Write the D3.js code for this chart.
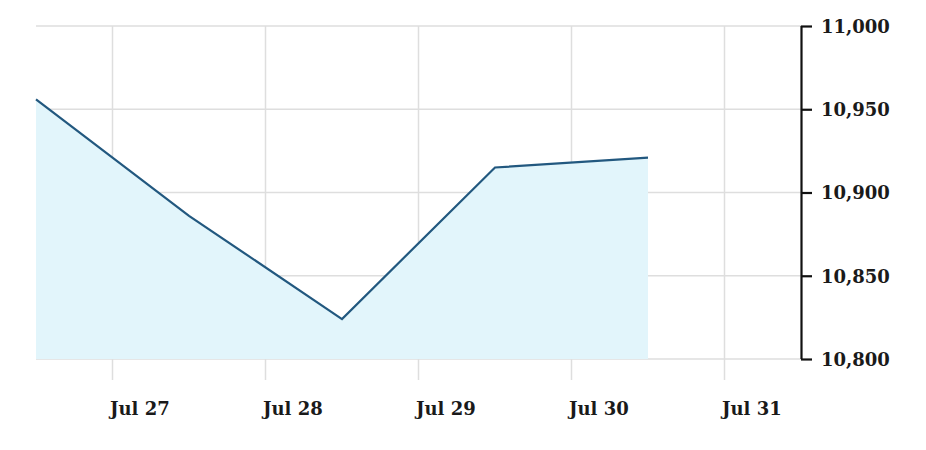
<!DOCTYPE html>
<html>
<head>
<meta charset="utf-8">
<script src="https://cdn.jsdelivr.net/npm/d3@7"></script>
<style>
  html, body { margin: 0; padding: 0; background: #fff; }
  svg { display: block; }
</style>
</head>
<body>
<svg id="chart" width="926" height="450"></svg>
<script>
// Data
const dates = ["2023-07-26T12:00", "2023-07-27T12:00", "2023-07-28T12:00", "2023-07-29T12:00", "2023-07-30T12:00"];
const values = [10956, 10886, 10824, 10915, 10921];
const xTickDates = ["2023-07-27", "2023-07-28", "2023-07-29", "2023-07-30", "2023-07-31"];
const yTicks = [10800, 10850, 10900, 10950, 11000];
const xDomain = ["2023-07-26T12:00", "2023-07-31T12:00"];
const yDomain = [10800, 11000];

(function () {
const parse = d3.isoParse;
const data = dates.map((d, i) => ({ date: parse(d), value: values[i] }));

const svg = d3.select("#chart");
const mLeft = 36, mRight = 801, mTop = 26, mBottom = 359;

const x = d3.scaleTime().domain(xDomain.map(parse)).range([mLeft, mRight]);
const y = d3.scaleLinear().domain(yDomain).range([mBottom, mTop]);

// Horizontal grid
svg.append("g")
  .selectAll("line")
  .data(yTicks)
  .join("line")
  .attr("x1", mLeft).attr("x2", mRight)
  .attr("y1", d => y(d)).attr("y2", d => y(d))
  .attr("stroke", "#dedede").attr("stroke-width", 1.5);

// Vertical grid
svg.append("g")
  .selectAll("line")
  .data(xTickDates.map(parse))
  .join("line")
  .attr("x1", d => x(d)).attr("x2", d => x(d))
  .attr("y1", mTop).attr("y2", 380)
  .attr("stroke", "#dedede").attr("stroke-width", 1.5);

// Area
const area = d3.area()
  .x(d => x(d.date))
  .y0(y(yDomain[0]))
  .y1(d => y(d.value));
svg.append("path")
  .datum(data)
  .attr("d", area)
  .attr("fill", "#e2f5fb");

// Line
const line = d3.line()
  .x(d => x(d.date))
  .y(d => y(d.value));
svg.append("path")
  .datum(data)
  .attr("d", line)
  .attr("fill", "none")
  .attr("stroke", "#22587f")
  .attr("stroke-width", 2.2)
  .attr("stroke-linejoin", "miter");

// Right axis
const yAxis = d3.axisRight(y)
  .tickValues(yTicks)
  .tickFormat(d3.format(","))
  .tickSize(11)
  .tickPadding(9);
const ya = svg.append("g")
  .attr("transform", `translate(${mRight},0)`)
  .call(yAxis);
ya.select(".domain").attr("stroke", "#111").attr("stroke-width", 2.2)
  .attr("d", `M0.5,${mTop}V${mBottom}`);
ya.selectAll(".tick line").attr("stroke", "#111").attr("stroke-width", 2.2);
ya.selectAll(".tick text")
  .attr("fill", "#1a1a1a")
  .style("font-family", "'DejaVu Serif', serif")
  .style("font-weight", "bold")
  .style("font-size", "18px")
  .attr("dy", "0.35em");

// Bottom axis labels
const xAxis = d3.axisBottom(x)
  .tickValues(xTickDates.map(parse))
  .tickFormat(d3.timeFormat("%b %-d"))
  .tickSize(0)
  .tickPadding(0);
const xa = svg.append("g")
  .attr("transform", `translate(0,400)`)
  .call(xAxis);
xa.select(".domain").remove();
xa.selectAll(".tick text")
  .attr("fill", "#1a1a1a")
  .attr("text-anchor", "start")
  .attr("x", -3)
  .attr("dy", "0.85em")
  .style("font-family", "'DejaVu Serif', serif")
  .style("font-weight", "bold")
  .style("font-size", "18px");
})();
</script>
</body>
</html>
